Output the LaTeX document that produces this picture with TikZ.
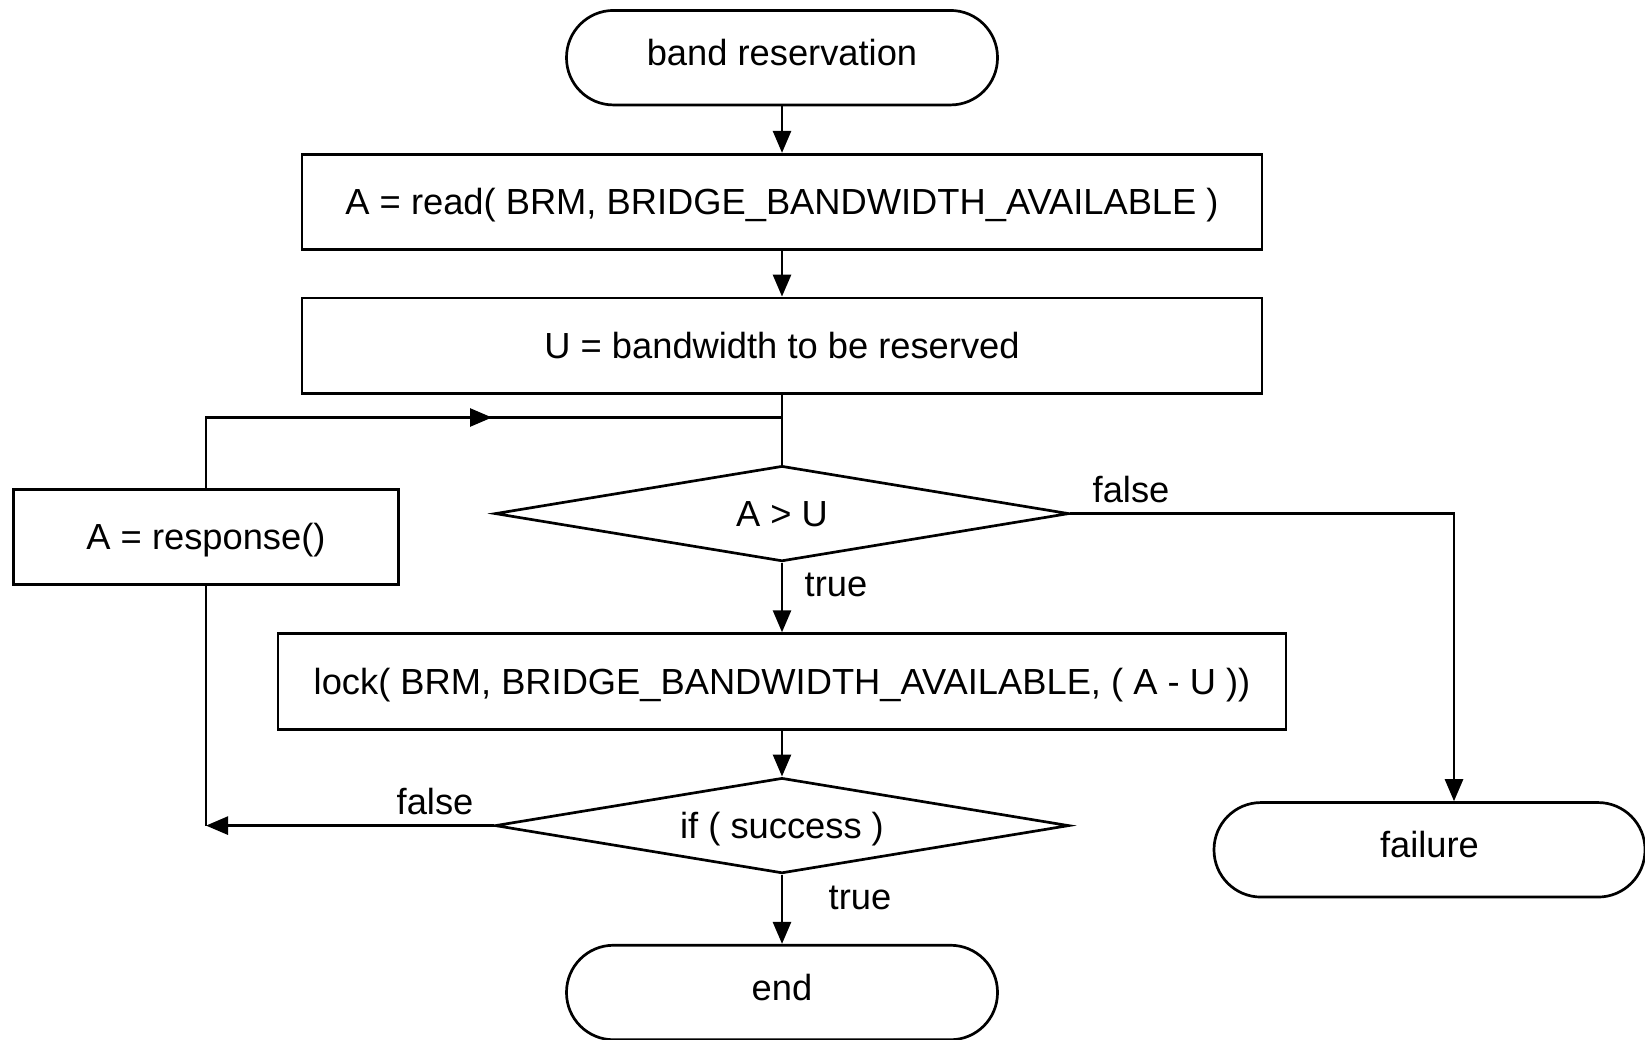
\documentclass[tikz,border=0pt]{standalone}
\usepackage{fontspec}
\setmainfont{Liberation Sans}
\usetikzlibrary{arrows.meta,shapes.geometric}
\begin{document}
\begin{tikzpicture}[x=1pt,y=-1pt,
  every node/.style={font=\fontsize{36.3}{42}\selectfont},
  base/.style={draw, line width=2.7pt, inner sep=0pt},
  term/.style={base, rectangle, rounded corners=47pt, minimum width=431pt, minimum height=94.5pt, text height=27pt, text depth=11pt},
  proc/.style={base, rectangle, minimum height=95.5pt, text height=32.4pt, text depth=6.6pt},
  dec/.style={base, diamond, aspect=6, minimum width=574pt, minimum height=95.5pt, text height=32.4pt, text depth=6.6pt},
  lbl/.style={inner sep=0pt},
  conn/.style={line width=2.7pt},
  arr/.style={conn, -{Triangle[length=22pt,width=18pt]}}]
\useasboundingbox (0,0) rectangle (1645,1040);
\node[term] (start) at (782,57.7) {band reservation};
\node[proc, minimum width=960pt] (read) at (782,202) {A = read( BRM, BRIDGE\_BANDWIDTH\_AVAILABLE )};
\node[proc, minimum width=960pt] (u) at (782,345.7) {U = bandwidth to be reserved};
\node[proc, minimum width=385pt] (resp) at (206,537) {A = response()};
\node[dec] (d1) at (782,513.6) {A > U};
\node[proc, minimum width=1008pt] (lock) at (782,681.4) {lock( BRM, BRIDGE\_BANDWIDTH\_AVAILABLE, ( A - U ))};
\node[dec] (d2) at (782,825.6) {if ( success )};
\node[term] (end) at (782,992.5) {end};
\node[term] (fail) at (1429.5,849.8) {failure};
\coordinate (loopL) at (206,417.5);
\coordinate (loopR) at (782,417.5);
\coordinate (loopM) at (492,417.5);
\coordinate (fturn) at (1454,513.6);
\coordinate (sturn) at (206,825.6);
\draw[arr] (start) -- (read);
\draw[arr] (read) -- (u);
\draw[conn] (u.south) -- (d1.north);
\draw[conn] (resp.north) -- (loopL) -- (loopR);
\draw[arr] (loopL) -- (loopM);
\draw[arr] (d1.east) -- (fturn) -- (fturn |- fail.north);
\node[lbl] (f1) at (1131,490) {false};
\draw[arr] (d1) -- (lock);
\node[lbl] (t1) at (836,585) {true};
\draw[arr] (lock) -- (d2);
\draw[arr] (d2.west) -- (sturn);
\draw[conn] (resp.south) -- (sturn);
\node[lbl] (f2) at (435,801.5) {false};
\draw[arr] (d2) -- (end);
\node[lbl] (t2) at (860,898) {true};
\end{tikzpicture}
\end{document}
